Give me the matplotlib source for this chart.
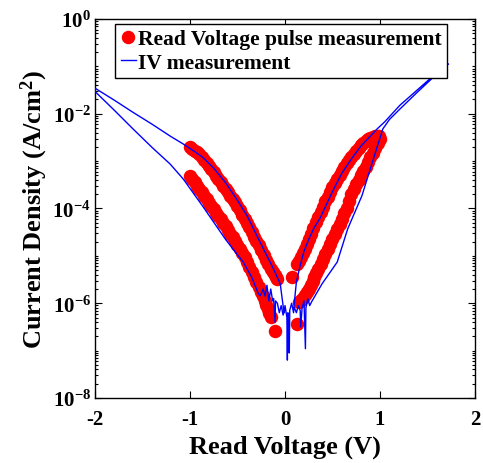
import numpy as np
import matplotlib
matplotlib.use("Agg")
import matplotlib.pyplot as plt
from matplotlib.ticker import FixedLocator, LogLocator, FuncFormatter, NullFormatter
from matplotlib.lines import Line2D

# Read-voltage pulse measurement: voltage (V) and log10 of current density (A/cm^2)
neg_hi_v = [-1.000, -0.975, -0.950, -0.925, -0.900, -0.875, -0.850, -0.825, -0.800, -0.775,
            -0.750, -0.725, -0.700, -0.675, -0.650, -0.625, -0.600, -0.575, -0.550, -0.525,
            -0.500, -0.475, -0.450, -0.425, -0.400, -0.375, -0.350, -0.325, -0.300, -0.275,
            -0.250, -0.225, -0.200, -0.175, -0.150, -0.130, -0.110, -0.095, -0.080]
neg_hi_logj = [-2.70, -2.74, -2.78, -2.81, -2.85, -2.91, -2.98, -3.04, -3.11, -3.17,
               -3.24, -3.31, -3.38, -3.45, -3.52, -3.59, -3.66, -3.73, -3.80, -3.87,
               -3.95, -4.04, -4.13, -4.22, -4.31, -4.40, -4.50, -4.60, -4.69, -4.78,
               -4.88, -4.98, -5.08, -5.18, -5.27, -5.34, -5.40, -5.45, -5.49]

neg_lo_v = [-1.000, -0.975, -0.950, -0.925, -0.900, -0.875, -0.850, -0.825, -0.800, -0.775,
            -0.750, -0.725, -0.700, -0.675, -0.650, -0.625, -0.600, -0.575, -0.550, -0.525,
            -0.500, -0.475, -0.450, -0.425, -0.400, -0.375, -0.350, -0.325, -0.300, -0.275,
            -0.250, -0.230, -0.210, -0.195, -0.180, -0.165, -0.150, -0.100]
neg_lo_logj = [-3.32, -3.38, -3.45, -3.52, -3.59, -3.66, -3.73, -3.80, -3.88, -3.95,
               -4.02, -4.09, -4.16, -4.23, -4.30, -4.37, -4.45, -4.53, -4.61, -4.69,
               -4.77, -4.85, -4.94, -5.03, -5.13, -5.24, -5.35, -5.45, -5.56, -5.66,
               -5.76, -5.85, -5.95, -6.03, -6.12, -6.20, -6.28, -6.58]

pos_hi_v = [0.070, 0.130, 0.150, 0.170, 0.190, 0.210, 0.230, 0.250, 0.275, 0.300,
            0.325, 0.350, 0.375, 0.400, 0.425, 0.450, 0.475, 0.500, 0.525, 0.550,
            0.575, 0.600, 0.625, 0.650, 0.675, 0.700, 0.725, 0.750, 0.775, 0.800,
            0.825, 0.850, 0.875, 0.900, 0.925, 0.950, 0.975, 0.990]
pos_hi_logj = [-5.45, -5.18, -5.10, -5.03, -4.94, -4.85, -4.75, -4.65, -4.53, -4.41,
               -4.29, -4.18, -4.07, -3.96, -3.85, -3.75, -3.65, -3.55, -3.46, -3.38,
               -3.29, -3.21, -3.13, -3.05, -2.98, -2.91, -2.85, -2.79, -2.73, -2.67,
               -2.62, -2.57, -2.54, -2.51, -2.49, -2.47, -2.46, -2.46]

pos_lo_v = [0.130, 0.150, 0.170, 0.190, 0.210, 0.230, 0.250, 0.270, 0.290, 0.310,
            0.330, 0.350, 0.375, 0.400, 0.425, 0.450, 0.475, 0.500, 0.525, 0.550,
            0.575, 0.600, 0.625, 0.650, 0.675, 0.700, 0.725, 0.750, 0.775, 0.800,
            0.825, 0.850, 0.875, 0.900, 0.925, 0.950, 0.975, 1.000]
pos_lo_logj = [-6.43, -5.98, -5.93, -5.88, -5.82, -5.76, -5.69, -5.61, -5.53, -5.45,
               -5.37, -5.28, -5.18, -5.07, -4.96, -4.85, -4.75, -4.64, -4.54, -4.43,
               -4.33, -4.22, -4.10, -3.98, -3.84, -3.70, -3.59, -3.48, -3.39, -3.30,
               -3.21, -3.12, -3.02, -2.92, -2.82, -2.72, -2.62, -2.53]

# DC IV sweep: 0 -> -2 V -> 0 -> +1.7 V -> 0
iv_v = [0.00, -0.02, -0.04, -0.06, -0.08, -0.10, -0.105, -0.12, -0.13, -0.15,
        -0.17, -0.19, -0.21, -0.23, -0.26, -0.28, -0.35, -0.44, -0.55, -0.63,
        -0.86, -1.07, -1.21, -1.40, -1.60, -1.80, -2.00,
        -2.00, -1.80, -1.60, -1.40, -1.21, -1.07, -0.95, -0.86, -0.75, -0.62,
        -0.51, -0.40, -0.28, -0.20, -0.12, -0.05, -0.03,
        -0.01, 0.00, 0.02, 0.025, 0.03, 0.04, 0.045, 0.05, 0.07, 0.09, 0.10,
        0.12, 0.16, 0.20, 0.25, 0.30, 0.37, 0.44, 0.51, 0.60, 0.70, 0.80, 0.90,
        0.97, 1.05, 1.21, 1.38, 1.55, 1.70, 1.72,
        1.70, 1.55, 1.38, 1.21, 1.10, 1.03, 0.92, 0.81, 0.66, 0.55, 0.39, 0.28,
        0.26, 0.24, 0.22, 0.215, 0.20, 0.18, 0.165, 0.16, 0.14, 0.12, 0.10]
iv_logj = [-6.10, -6.25, -6.05, -6.20, -6.00, -5.95, -6.40, -5.90, -5.95, -5.70,
           -5.95, -5.62, -5.85, -5.70, -5.84, -5.80, -5.45, -5.13, -4.85, -4.64,
           -3.97, -3.38, -3.06, -2.71, -2.32, -1.92, -1.53,
           -1.46, -1.71, -1.97, -2.22, -2.47, -2.64, -2.80, -2.93, -3.15, -3.47,
           -3.80, -4.15, -4.64, -4.96, -5.28, -5.59, -5.90,
           -6.20, -6.05, -6.30, -7.20, -6.20, -6.25, -7.05, -6.15, -6.00, -6.20, -5.95,
           -5.55, -5.20, -4.90, -4.65, -4.43, -4.20, -3.90, -3.60, -3.25, -2.95, -2.68, -2.47,
           -2.32, -2.17, -1.82, -1.52, -1.22, -0.95, -0.95,
           -0.97, -1.25, -1.57, -1.90, -2.12, -2.32, -3.02, -3.73, -4.43, -5.13, -5.59, -5.97,
           -6.05, -5.90, -6.10, -6.96, -5.95, -6.10, -6.50, -6.15, -6.05, -6.20, -6.10]

x_ticks = [-2, -1, 0, 1, 2]
y_major_exp = [-8, -6, -4, -2, 0]

plt.rcParams.update({
    "font.family": "Liberation Serif",
    "font.weight": "bold",
    "axes.labelweight": "bold",
    "mathtext.fontset": "custom",
    "mathtext.rm": "Liberation Serif:bold",
    "mathtext.it": "Liberation Serif:bold",
    "mathtext.bf": "Liberation Serif:bold",
    "mathtext.default": "rm",
})

fig = plt.figure(figsize=(4.83, 4.64), dpi=100)
ax = fig.add_axes([0.1967, 0.1401, 0.7867, 0.8168])

red_kw = dict(marker="o", linestyle="none", color="red", ms=9.7, mew=0, zorder=2)
for v, lj in [(neg_hi_v, neg_hi_logj), (neg_lo_v, neg_lo_logj),
              (pos_hi_v, pos_hi_logj), (pos_lo_v, pos_lo_logj)]:
    ax.plot(v, 10.0 ** np.asarray(lj), **red_kw)

ax.plot(iv_v, 10.0 ** np.asarray(iv_logj), color="blue", lw=1.0, zorder=3)

ax.set_yscale("log")
ax.set_xlim(-2, 2)
ax.set_ylim(1e-8, 1)
ax.xaxis.set_major_locator(FixedLocator(x_ticks))
ax.yaxis.set_major_locator(FixedLocator([10.0 ** e for e in y_major_exp]))
ax.yaxis.set_minor_locator(LogLocator(base=10, subs=np.arange(1, 10), numticks=20))
ax.yaxis.set_minor_formatter(NullFormatter())
ax.yaxis.set_major_formatter(FuncFormatter(lambda y, p: r"$10^{%d}$" % int(round(np.log10(y)))))
ax.xaxis.set_major_formatter(FuncFormatter(lambda x, p: "%d" % x if x >= 0 else "-%d" % -x))

ax.tick_params(which="both", direction="in", top=True, right=True, width=0.8)
ax.tick_params(which="major", length=5, labelsize=15)
ax.tick_params(which="minor", length=2.5)
ax.tick_params(axis="x", pad=8)
ax.tick_params(axis="y", pad=3)
for s in ax.spines.values():
    s.set_linewidth(1.0)

ax.set_xlabel("Read Voltage (V)", fontsize=19, labelpad=4)
ax.set_ylabel("Current Density (A/cm$^{2}$)", fontsize=19, labelpad=2)

handles = [Line2D([], [], marker="o", linestyle="none", color="red", ms=9.7, mew=0),
           Line2D([], [], color="blue", lw=1.0)]
leg = ax.legend(handles, ["Read Voltage pulse measurement", "IV measurement"],
                loc="upper left", bbox_to_anchor=(0.053, 0.987), borderaxespad=0,
                fontsize=15.5, handlelength=0.7, handletextpad=0.1, borderpad=0.25,
                labelspacing=0.15, fancybox=False, framealpha=1, edgecolor="black")
leg.get_frame().set_linewidth(1.0)

fig.savefig("out.png", dpi=100, facecolor="white")
